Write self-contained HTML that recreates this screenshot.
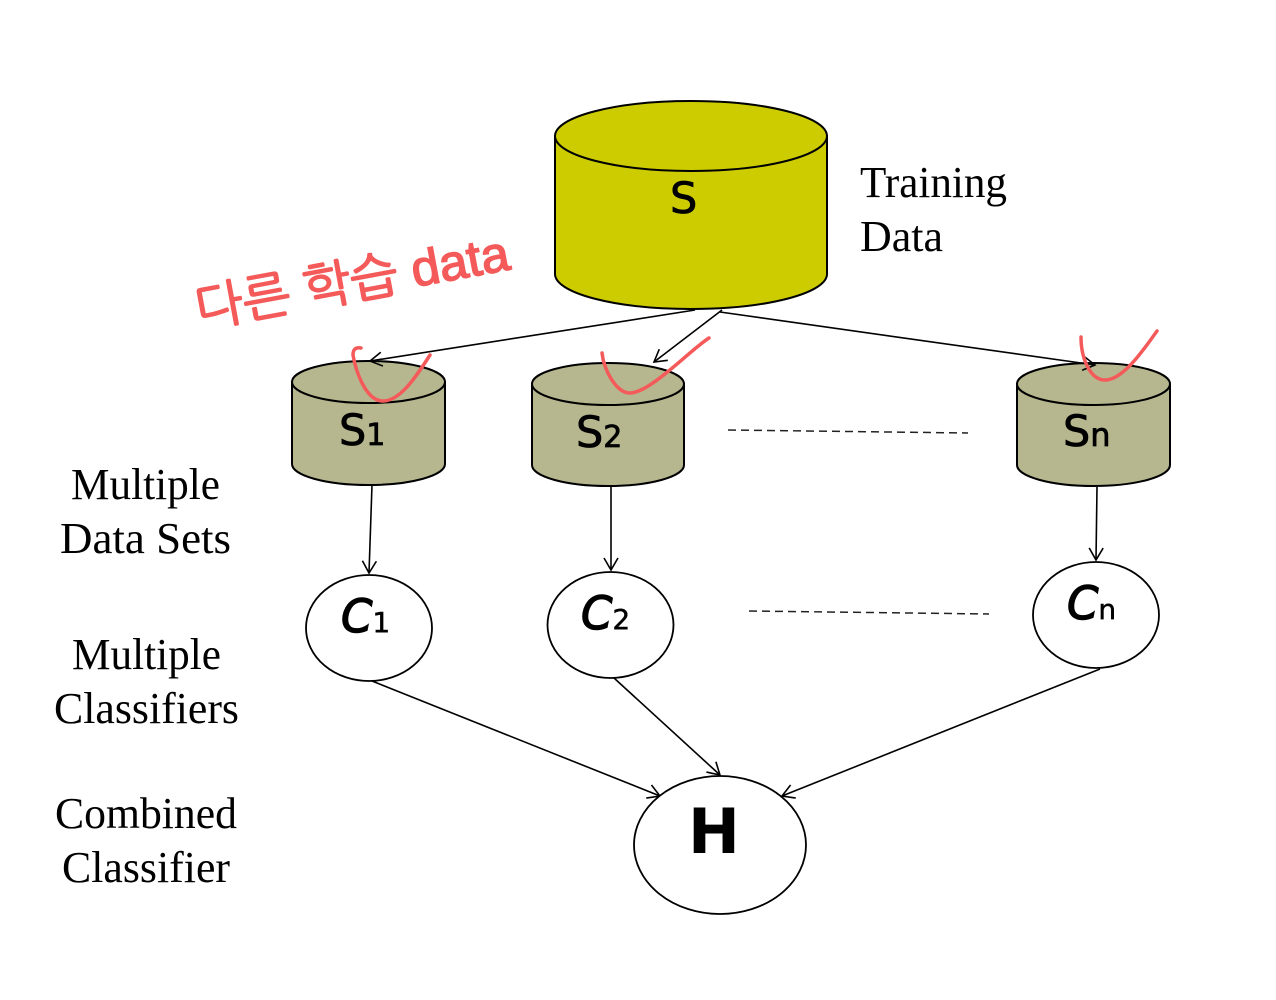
<!DOCTYPE html>
<html lang="en"><head><meta charset="utf-8"><title>Bagging diagram</title>
<style>html,body{margin:0;padding:0;background:#fff}svg{display:block}</style></head>
<body>
<svg xmlns="http://www.w3.org/2000/svg" width="1276" height="1000" viewBox="0 0 1276 1000">
<defs>
<marker id="a" markerUnits="userSpaceOnUse" markerWidth="20" markerHeight="20" refX="16" refY="10" orient="auto">
<path d="M4 3 L16 10 L4 17" fill="none" stroke="#000" stroke-width="1.6"/></marker>
</defs>
<rect width="1276" height="1000" fill="#fff"/>

<g stroke="#000" stroke-width="2" fill="#cccc00">
<path d="M555 136 V274 A136 35 0 0 0 827 274 V136 Z"/>
<ellipse cx="691" cy="136" rx="136" ry="35"/>
</g>
<g stroke="#000" stroke-width="2" fill="#b6b68f">
<path d="M292 382 V464 A76.5 21 0 0 0 445 464 V382 Z"/>
<ellipse cx="368.500" cy="382" rx="76.500" ry="21"/>
<path d="M532 384 V465 A76 21 0 0 0 684 465 V384 Z"/>
<ellipse cx="608" cy="384" rx="76" ry="21"/>
<path d="M1017 384 V465 A76.500 21 0 0 0 1170 465 V384 Z"/>
<ellipse cx="1093.500" cy="384" rx="76.500" ry="21"/>
</g>

<g stroke="#000" stroke-width="1.600" fill="none">
<line x1="695" y1="310" x2="370" y2="361" marker-end="url(#a)"/>
<line x1="722" y1="310" x2="654" y2="362" marker-end="url(#a)"/>
<line x1="720" y1="312" x2="1095" y2="365" marker-end="url(#a)"/>
<line x1="372" y1="485" x2="369" y2="573" marker-end="url(#a)"/>
<line x1="611" y1="487" x2="611" y2="570" marker-end="url(#a)"/>
<line x1="1097" y1="487" x2="1096" y2="560" marker-end="url(#a)"/>
<line x1="372" y1="681" x2="660" y2="796" marker-end="url(#a)"/>
<line x1="614" y1="678" x2="720" y2="775" marker-end="url(#a)"/>
<line x1="1100" y1="669" x2="782" y2="796" marker-end="url(#a)"/>
</g>
<g stroke="#222" stroke-width="1.500" stroke-dasharray="8 5">
<line x1="728" y1="430" x2="968" y2="433"/>
<line x1="749" y1="611" x2="989" y2="614"/>
</g>

<g stroke="#000" stroke-width="1.800" fill="#fff">
<ellipse cx="369" cy="628" rx="63" ry="53"/>
<ellipse cx="610.500" cy="625" rx="63" ry="53"/>
<ellipse cx="1096" cy="615" rx="63" ry="53"/>
<ellipse cx="720" cy="845" rx="86" ry="69"/>
</g>

<g font-family="'DejaVu Sans',sans-serif" fill="#000" stroke="#000" stroke-width="0.800">
<text x="670" y="213" font-size="43">S</text>
<text x="339" y="445" font-size="43">S<tspan font-size="30">1</tspan></text>
<text x="576" y="447" font-size="43">S<tspan font-size="30">2</tspan></text>
<text x="1063" y="446" font-size="43">S<tspan font-size="32">n</tspan></text>
<g font-style="italic">
<text x="341" y="632" font-size="45" stroke-width="1.400">C<tspan font-size="28" font-style="normal" stroke-width="0.500">1</tspan></text>
<text x="581" y="629" font-size="45" stroke-width="1.400">C<tspan font-size="28" font-style="normal" stroke-width="0.500">2</tspan></text>
<text x="1067" y="619" font-size="45" stroke-width="1.400">C<tspan font-size="28" font-style="normal" stroke-width="0.500">n</tspan></text>
</g>
<text x="714" y="853" font-size="62" font-weight="bold" text-anchor="middle" stroke="none">H</text>
</g>

<g font-family="'Liberation Serif',serif" font-size="44" fill="#000">
<text x="860" y="197" textLength="147" lengthAdjust="spacingAndGlyphs">Training</text>
<text x="860" y="251" textLength="83" lengthAdjust="spacingAndGlyphs">Data</text>
<text x="71" y="499" textLength="149" lengthAdjust="spacingAndGlyphs">Multiple</text>
<text x="60" y="553" textLength="171" lengthAdjust="spacingAndGlyphs">Data Sets</text>
<text x="72" y="669" textLength="149" lengthAdjust="spacingAndGlyphs">Multiple</text>
<text x="54" y="723" textLength="185" lengthAdjust="spacingAndGlyphs">Classifiers</text>
<text x="55" y="828" textLength="182" lengthAdjust="spacingAndGlyphs">Combined</text>
<text x="62" y="882" textLength="168" lengthAdjust="spacingAndGlyphs">Classifier</text>
</g>

<text transform="translate(199 327) rotate(-10.500)" font-family="'Liberation Sans','NanumGothic','Noto Sans CJK KR',sans-serif" font-size="50" fill="#f55a5a" stroke="#f55a5a" stroke-width="1.500" textLength="318" lengthAdjust="spacingAndGlyphs">다른 학습 data</text>

<g fill="none" stroke="#f55a5a" stroke-width="3.500" stroke-linecap="round" stroke-linejoin="round">
<path d="M361 348 C355 347 353 350 353 355 C356 372 366 401 383 401 C400 401 416 377 430 355"/>
<path d="M602 353 C604 370 616 393 630 393 C650 393 690 350 709 338"/>
<path d="M1081 337 C1081 358 1090 380 1105 380 C1124 380 1146 346 1157 331"/>
</g>
</svg>
</body></html>
